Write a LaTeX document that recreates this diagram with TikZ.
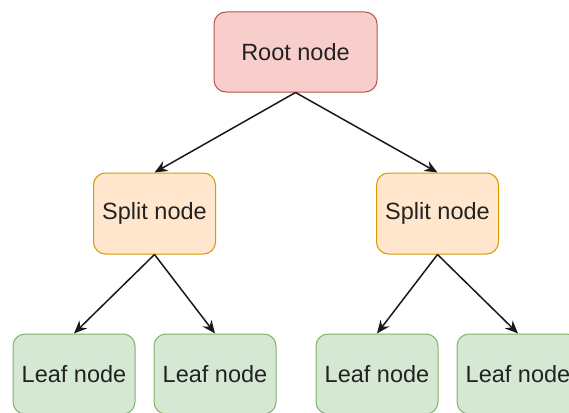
\documentclass[tikz,border=0pt]{standalone}
\usepackage{fontspec}
\setmainfont{Liberation Sans}
\usetikzlibrary{arrows.meta}
\definecolor{rootfill}{HTML}{F8CECC}
\definecolor{rootline}{HTML}{B85450}
\definecolor{splitfill}{HTML}{FFE6CC}
\definecolor{splitline}{HTML}{D79B00}
\definecolor{leaffill}{HTML}{D5E8D4}
\definecolor{leafline}{HTML}{82B366}
\definecolor{txt}{HTML}{222222}
\tikzset{
	box/.style={draw, line width=1pt, rounded corners=12pt, text=txt,
		font=\fontsize{23.5}{27}\selectfont, inner sep=0pt, align=center},
	rootbox/.style={box, fill=rootfill, draw=rootline, minimum width=163pt, minimum height=80pt},
	splitbox/.style={box, fill=splitfill, draw=splitline, minimum width=122pt, minimum height=81pt},
	leafbox/.style={box, fill=leaffill, draw=leafline, minimum width=122pt, minimum height=80pt},
	edge/.style={-{Stealth[length=13pt,width=11pt]}, line width=1.5pt, black!90}
}
\begin{document}
\begin{tikzpicture}[x=1pt,y=-1pt]
		\useasboundingbox (0,0) rectangle (569,412);
		\clip (0,0) rectangle (569,412);
		\draw
		node[rootbox] at (295.5,52) (root) {Root node}
		node[splitbox] at (154.5,213.5) (splitl) {Split node}
		node[splitbox] at (437.5,213.5) (splitr) {Split node}
		node[leafbox] at (74,374) (leafa) {Leaf node}
		node[leafbox] at (215,374) (leafb) {Leaf node}
		node[leafbox] at (377,374) (leafc) {Leaf node}
		node[leafbox] at (518,374) (leafd) {Leaf node};
		\draw[edge] (root.south) -- (splitl.north);
		\draw[edge] (root.south) -- (splitr.north);
		\draw[edge] (splitl.south) -- (leafa.north);
		\draw[edge] (splitl.south) -- (leafb.north);
		\draw[edge] (splitr.south) -- (leafc.north);
		\draw[edge] (splitr.south) -- (leafd.north);
	\end{tikzpicture}
\end{document}
